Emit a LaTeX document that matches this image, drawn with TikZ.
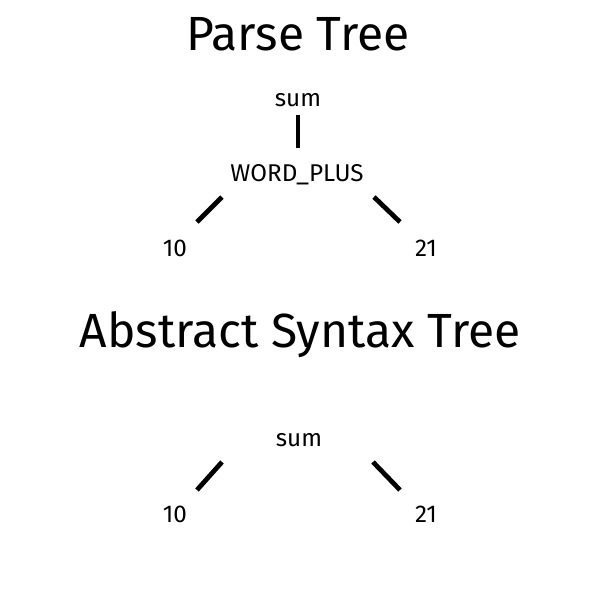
\documentclass[tikz,border=0pt]{standalone}
\usepackage{fontspec}
\setmainfont{Fira Sans}
\usetikzlibrary{calc}

\begin{document}
\begin{tikzpicture}[x=0.02cm,y=-0.02cm,
                    title node/.style={anchor=base,inner sep=0pt,font=\fontsize{27.3}{32}\selectfont},
                    main node/.style={anchor=base,inner sep=0pt,font=\fontsize{13.8}{16}\selectfont},
                    edge line/.style={line width=2.7pt,line cap=butt}]
  \useasboundingbox (0,0) rectangle (600,600);
  % parse tree
  \node[title node] (t1) at (298,50) {Parse Tree};
  \node[main node] (p1) at (298,106) {sum};
  \node[main node] (p2) at (297,181) {WORD\_PLUS};
  \node[main node] (p3) at (175,256) {10};
  \node[main node] (p4) at (426,256) {21};
  \draw[edge line] ($(p1.base)+(0,9)$) -- ($(p2.base)+(1,-33)$);
  \draw[edge line] ($(p2.base)+(-75,16)$) -- ($(p3.base)+(22,-34)$);
  \draw[edge line] ($(p2.base)+(77,16)$) -- ($(p4.base)+(-26,-34)$);
  % abstract syntax tree
  \node[title node] (t2) at (300,347) {Abstract Syntax Tree};
  \node[main node] (a1) at (299,446) {sum};
  \node[main node] (a2) at (175,522) {10};
  \node[main node] (a3) at (426,522) {21};
  \draw[edge line] ($(a1.base)+(-77,16)$) -- ($(a2.base)+(22,-32)$);
  \draw[edge line] ($(a1.base)+(74,16)$) -- ($(a3.base)+(-26,-32)$);
\end{tikzpicture}
\end{document}
